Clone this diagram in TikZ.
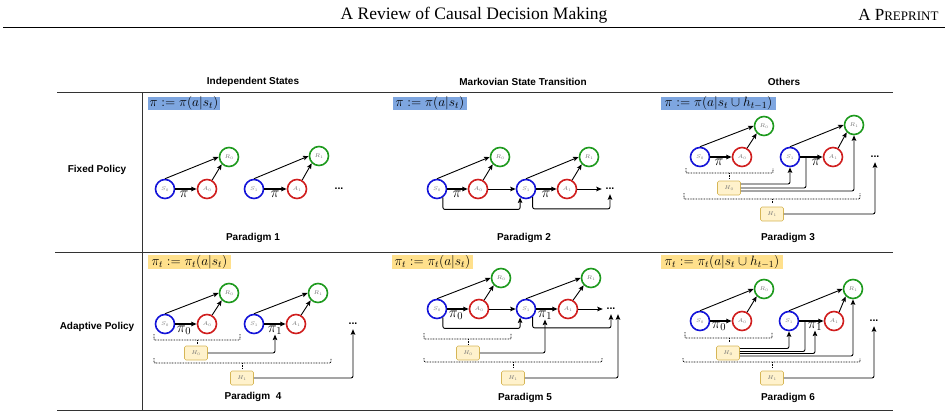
\RequirePackage{fix-cm}
\documentclass[tikz,border=0pt]{standalone}
\usepackage[no-math]{fontspec}
\setmainfont{Liberation Serif}
\newfontfamily\hsans{Liberation Sans}
\usetikzlibrary{arrows.meta,calc}
\definecolor{cblue}{HTML}{1414D8}
\definecolor{cred}{HTML}{D01E1E}
\definecolor{cgreen}{HTML}{1E9A1E}
\definecolor{fblue}{HTML}{7EA6E0}
\definecolor{fyell}{HTML}{FFE08C}
\definecolor{hfill}{HTML}{FFF2CC}
\definecolor{hdraw}{HTML}{D6B656}
\definecolor{rulec}{HTML}{333333}
\begin{document}
\begin{tikzpicture}[x=1pt,y=-1pt,
 sn/.style={circle,draw=cblue,line width=1.6pt,minimum size=19pt,inner sep=0pt,font=\fontsize{5.5}{6}\selectfont,text=black!55},
 an/.style={sn,draw=cred},
 rn/.style={sn,draw=cgreen},
 hb/.style={rectangle,rounded corners=1.5pt,draw=hdraw,fill=hfill,line width=0.6pt,minimum width=23pt,minimum height=14pt,inner sep=0pt,font=\fontsize{5.5}{6}\selectfont,text=black!55},
 ed/.style={line width=0.9pt,rounded corners=2pt,-{Stealth[length=5.5pt,width=4.5pt,inset=1pt]}},
 edt/.style={ed,line width=1.4pt},
 ln/.style={line width=0.9pt,rounded corners=2pt},
 brk/.style={line width=0.8pt,dash pattern=on 0.8pt off 0.8pt,rounded corners=1pt},
 dts/.style={inner sep=0pt,minimum height=10pt,minimum width=10pt,font=\hsans\bfseries\fontsize{10.5}{11}\selectfont},
 pil/.style={inner sep=0pt,font=\fontsize{15}{16}\selectfont},
 fbx/.style={inner sep=0pt,font=\fontsize{13.5}{14}\selectfont},
 lab/.style={font=\hsans\bfseries\fontsize{10}{12}\selectfont},
 rul/.style={draw=rulec,line width=1pt}
]
\useasboundingbox (0,0) rectangle (948,418);
% page header
\node[font=\fontsize{17.5}{20}\selectfont] (title) at (474,15) {A Review of Causal Decision Making};
\node[anchor=east,font=\fontsize{17}{20}\selectfont] (prep) at (942,15) {A P{\fontsize{13}{15}\selectfont REPRINT}};
\draw[line width=0.9pt] (3,27) -- (945,27);
% table
\draw[rul] (57,92) -- (893,92);
\draw[rul] (55,252) -- (893,252);
\draw[rul] (57,410) -- (893,410);
\draw[rul] (142,92) -- (142,410);
\node[lab] (h1) at (253,82) {Independent States};
\node[lab] (h2) at (523,82) {Markovian State Transition};
\node[lab] (h3) at (784,82) {Others};
\node[lab] (rl1) at (97,170) {Fixed Policy};
\node[lab] (rl2) at (97,327) {Adaptive Policy};
% formulas
\node[fbx,fill=fblue,minimum width=72pt,minimum height=11.5pt] (f1) at (184,103.5) {$\pi := \pi(a|s_t)$};
\node[fbx,fill=fblue,minimum width=74pt,minimum height=11.5pt] (f2) at (430,103.5) {$\pi := \pi(a|s_t)$};
\node[fbx,fill=fblue,minimum width=115pt,minimum height=11.5pt] (f3) at (718.5,103.5) {$\pi := \pi(a|s_t\cup h_{t-1})$};
\node[fbx,fill=fyell,minimum width=83pt,minimum height=11.5pt] (f4) at (189.5,262) {$\pi_t := \pi_t(a|s_t)$};
\node[fbx,fill=fyell,minimum width=81pt,minimum height=11.5pt] (f5) at (432.5,262) {$\pi_t := \pi_t(a|s_t)$};
\node[fbx,fill=fyell,minimum width=122pt,minimum height=11.5pt] (f6) at (722,262) {$\pi_t := \pi_t(a|s_t\cup h_{t-1})$};
% ---------- Paradigm 1
\node[sn] (p1s0) at (165,189) {$S_0$};
\node[an] (p1a0) at (207,189) {$A_0$};
\node[rn] (p1r0) at (229,157) {$R_0$};
\node[sn] (p1s1) at (254,189) {$S_1$};
\node[an] (p1a1) at (297,189) {$A_1$};
\node[rn] (p1r1) at (319,156) {$R_1$};
\node[dts] (p1d) at (339,189) {...};
\node[pil] (p1pi0) at (184,194) {$\pi$};
\node[pil] (p1pi1) at (275,194) {$\pi$};
\draw[edt] (p1s0) -- (p1a0);
\draw[ed] (p1s0.north) -- (p1r0.west);
\draw[ed] (p1a0.60) -- (p1r0.225);
\draw[edt] (p1s1) -- (p1a1);
\draw[ed] (p1s1.north) -- (p1r1.west);
\draw[ed] (p1a1.60) -- (p1r1.225);
\node[lab] (pg1) at (253,238) {Paradigm 1};
% ---------- Paradigm 2
\node[sn] (p2s0) at (437,189) {$S_0$};
\node[an] (p2a0) at (478,189) {$A_0$};
\node[rn] (p2r0) at (500,157) {$R_0$};
\node[sn] (p2s1) at (526,189) {$S_1$};
\node[an] (p2a1) at (567,189) {$A_1$};
\node[rn] (p2r1) at (589,157) {$R_1$};
\node[dts] (p2d) at (610,189) {...};
\node[pil] (p2pi0) at (457,194) {$\pi$};
\node[pil] (p2pi1) at (546,194) {$\pi$};
\draw[edt] (p2s0) -- (p2a0);
\draw[ed] (p2s0.north) -- (p2r0.west);
\draw[ed] (p2a0.60) -- (p2r0.225);
\draw[ed] (p2a0) -- (p2s1);
\draw[edt] (p2s1) -- (p2a1);
\draw[ed] (p2s1.north) -- (p2r1.west);
\draw[ed] (p2a1.60) -- (p2r1.225);
\draw[ed,shorten >=3pt] (p2a1) -- (p2d);
\draw[ed] (p2s0.-55) -- ++(0,12) -| (p2s1.-125);
\draw[ed] (p2s1.-50) -- ++(0,12) -| (p2d.south);
\node[lab] (pg2) at (524,238) {Paradigm 2};
% ---------- Paradigm 3
\node[sn] (p3s0) at (700,157) {$S_0$};
\node[an] (p3a0) at (742,157) {$A_0$};
\node[rn] (p3r0) at (764,126) {$R_0$};
\node[sn] (p3s1) at (790,157) {$S_1$};
\node[an] (p3a1) at (833,157) {$A_1$};
\node[rn] (p3r1) at (854,125) {$R_1$};
\node[dts] (p3d) at (875,157) {...};
\node[pil] (p3pi0) at (719,162) {$\pi$};
\node[pil] (p3pi1) at (816,162) {$\pi$};
\coordinate (p3j) at (806,157);
\draw[edt] (p3s0) -- (p3a0);
\draw[ed] (p3s0.north) -- (p3r0.west);
\draw[ed] (p3a0.60) -- (p3r0.225);
\draw[edt] (p3s1) -- (p3a1);
\draw[ed] (p3s1.north) -- (p3r1.west);
\draw[ed] (p3a1.60) -- (p3r1.225);
\draw[brk] (686,168) -- (686,173) -- (773,173) -- (773,168);
\draw[brk] (729,173) -- (729,178);
\draw[brk] (684,193) -- (684,199) -- (860,199) -- (860,193);
\draw[brk] (772,199) -- (772,203);
\node[hb] (p3h0) at (729,188) {$H_0$};
\node[hb] (p3h1) at (772,214) {$H_1$};
\draw[ed] ($(p3h0.east)+(0,-4)$) -| (p3s1.south);
\draw[ln] ($(p3h0.east)+(0,0)$) -| (p3j);
\draw[ed] ($(p3h0.east)+(0,3)$) -| (p3r1.south);
\draw[ed] (p3h1.east) -| (p3d.south);
\node[lab] (pg3) at (788,238) {Paradigm 3};
% ---------- Paradigm 4
\node[sn] (p4s0) at (165,324) {$S_0$};
\node[an] (p4a0) at (207,324) {$A_0$};
\node[rn] (p4r0) at (229,293) {$R_0$};
\node[sn] (p4s1) at (254,324) {$S_1$};
\node[an] (p4a1) at (296,324) {$A_1$};
\node[rn] (p4r1) at (318,293) {$R_1$};
\node[dts] (p4d) at (353,324) {...};
\node[pil] (p4pi0) at (184,330) {$\pi_0$};
\node[pil] (p4pi1) at (275,330) {$\pi_1$};
\draw[edt] (p4s0) -- (p4a0);
\draw[ed] (p4s0.north) -- (p4r0.west);
\draw[ed] (p4a0.60) -- (p4r0.225);
\draw[edt] (p4s1) -- (p4a1);
\draw[ed] (p4s1.north) -- (p4r1.west);
\draw[ed] (p4a1.60) -- (p4r1.225);
\draw[brk] (154,334) -- (154,340) -- (240,340) -- (240,334);
\draw[brk] (197,340) -- (197,344);
\draw[brk] (154,358) -- (154,363) -- (331,363) -- (331,358);
\draw[brk] (242,363) -- (242,368);
\node[hb] (p4h0) at (196,353) {$H_0$};
\node[hb] (p4h1) at (242,378) {$H_1$};
\draw[ed] (p4h0.east) -| (p4pi1.south);
\draw[ed] (p4h1.east) -| (p4d.south);
\node[lab] (pg4) at (253,397) {Paradigm~ 4};
% ---------- Paradigm 5
\node[sn] (p5s0) at (437,309) {$S_0$};
\node[an] (p5a0) at (479,309) {$A_0$};
\node[rn] (p5r0) at (501,278) {$R_0$};
\node[sn] (p5s1) at (526,309) {$S_1$};
\node[an] (p5a1) at (568,309) {$A_1$};
\node[rn] (p5r1) at (591,278) {$R_1$};
\node[dts] (p5d) at (611,309) {...};
\node[pil] (p5pi0) at (456,315) {$\pi_0$};
\node[pil] (p5pi1) at (545,315) {$\pi_1$};
\draw[edt] (p5s0) -- (p5a0);
\draw[ed] (p5s0.north) -- (p5r0.west);
\draw[ed] (p5a0.60) -- (p5r0.225);
\draw[ed] (p5a0) -- (p5s1);
\draw[edt] (p5s1) -- (p5a1);
\draw[ed] (p5s1.north) -- (p5r1.west);
\draw[ed] (p5a1.60) -- (p5r1.225);
\draw[ed,shorten >=3pt] (p5a1) -- (p5d);
\draw[ed] (p5s0.-55) -- ++(0,11) -| (p5s1.-125);
\draw[ed] (p5s1.-50) -- ++(0,11) -| (p5d.south);
\draw[brk] (424,333) -- (424,339) -- (511,339) -- (511,333);
\draw[brk] (468,339) -- (468,344);
\draw[brk] (424,358) -- (424,362) -- (602,362) -- (602,358);
\draw[brk] (513,362) -- (513,367);
\node[hb] (p5h0) at (468,353) {$H_0$};
\node[hb] (p5h1) at (513,378) {$H_1$};
\draw[ed] (p5h0.east) -| (p5pi1.south);
\draw[ed] (p5h1.east) -| ($(p5d.south)+(7,0)$);
\node[lab] (pg5) at (525,398) {Paradigm 5};
% ---------- Paradigm 6
\node[sn] (p6s0) at (700,321) {$S_0$};
\node[an] (p6a0) at (742,321) {$A_0$};
\node[rn] (p6r0) at (764,289) {$R_0$};
\node[sn] (p6s1) at (789,321) {$S_1$};
\node[an] (p6a1) at (834,321) {$A_1$};
\node[rn] (p6r1) at (853,289) {$R_1$};
\node[dts] (p6d) at (874,321) {...};
\node[pil] (p6pi0) at (719,326) {$\pi_0$};
\node[pil] (p6pi1) at (815,326) {$\pi_1$};
\coordinate (p6j) at (805,321);
\draw[edt] (p6s0) -- (p6a0);
\draw[ed] (p6s0.north) -- (p6r0.west);
\draw[ed] (p6a0.60) -- (p6r0.225);
\draw[edt] (p6s1) -- (p6a1);
\draw[ed] (p6s1.north) -- (p6r1.west);
\draw[ed] (p6a1.60) -- (p6r1.225);
\draw[brk] (685,332) -- (685,338) -- (772,338) -- (772,332);
\draw[brk] (729,338) -- (729,342);
\draw[brk] (683,358) -- (683,362) -- (860,362) -- (860,358);
\draw[brk] (772,362) -- (772,367);
\node[hb] (p6h0) at (728,353) {$H_0$};
\node[hb] (p6h1) at (772,378) {$H_1$};
\draw[ed] ($(p6h0.east)+(0,-4.5)$) -| (p6s1.south);
\draw[ln] ($(p6h0.east)+(0,-1.5)$) -| (p6j);
\draw[ed] ($(p6h0.east)+(0,0.5)$) -| (p6pi1.south);
\draw[ed] ($(p6h0.east)+(0,3)$) -| (p6r1.south);
\draw[ed] (p6h1.east) -| (p6d.south);
\node[lab] (pg6) at (788,398) {Paradigm 6};
\end{tikzpicture}
\end{document}
